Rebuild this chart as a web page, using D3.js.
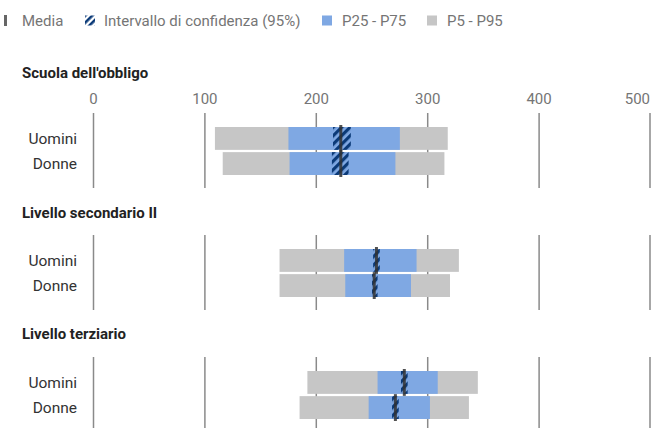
<!DOCTYPE html>
<html>
<head>
<meta charset="utf-8">
<script src="https://cdn.jsdelivr.net/npm/d3@7"></script>
<style>
  html, body { margin: 0; padding: 0; background: #fff; }
  svg { display: block; font-family: Roboto, "Noto Sans", sans-serif; }
</style>
</head>
<body>
<svg id="chart" width="651" height="428"></svg>
<script>
// ---- data ----
const panels = ["Scuola dell'obbligo", "Livello secondario II", "Livello terziario"];
const genders = ["Uomini", "Donne"];
const ticks = [0, 100, 200, 300, 400, 500];
const legendLabels = ["Media", "Intervallo di confidenza (95%)", "P25 - P75", "P5 - P95"];
// per panel: [Uomini, Donne]
const p5   = [[109, 116], [167, 167], [192, 185]];
const p95  = [[318, 315], [328, 320], [345, 337]];
const p25  = [[175, 176], [225, 226], [255, 247]];
const p75  = [[275, 271], [290, 285], [309, 302]];
const mean = [[222, 222], [254, 252], [279, 271]];
const ciLo = [[215, 214], [251, 250], [276, 268]];
const ciHi = [[231, 229], [257, 255], [282, 274]];

// ---- layout ----
const W = 651, H = 428;
const svg = d3.select("#chart");
const x = d3.scaleLinear().domain([0, 500]).range([93.5, 650.5]);
const gridTops = [113, 235, 357];
const titleBase = [78, 218, 339];
const colGray = "#c6c6c6", colBlue = "#7fa8e3", colHatch = "#0b3a78", colMean = "#333";

// hatch pattern
const defs = svg.append("defs");
const pat = defs.append("pattern").attr("id", "hatch").attr("patternUnits", "userSpaceOnUse")
  .attr("width", 6).attr("height", 6).attr("patternTransform", "rotate(45)");
pat.append("rect").attr("width", 3.2).attr("height", 6).attr("fill", colHatch);
const pat2 = defs.append("pattern").attr("id", "hatchL").attr("patternUnits", "userSpaceOnUse")
  .attr("width", 5).attr("height", 5).attr("patternTransform", "rotate(45)");
pat2.append("rect").attr("width", 2.6).attr("height", 5).attr("fill", colHatch);

// ---- legend ----
const lg = svg.append("g");
const lgY = 20.5;
lg.append("rect").attr("x", 4).attr("y", lgY - 5.5).attr("width", 3).attr("height", 11).attr("fill", "#666");
lg.append("rect").attr("x", 85).attr("y", lgY - 5).attr("width", 10).attr("height", 10).attr("fill", "url(#hatchL)");
lg.append("rect").attr("x", 322).attr("y", lgY - 5).attr("width", 10).attr("height", 10).attr("fill", colBlue);
lg.append("rect").attr("x", 427).attr("y", lgY - 5).attr("width", 10).attr("height", 10).attr("fill", colGray);
const lgX = [22, 104, 342, 447];
lg.selectAll("text.lg").data(legendLabels).join("text")
  .attr("x", (d, i) => lgX[i]).attr("y", lgY + 5.5)
  .attr("font-size", 15).attr("fill", "#757575").text(d => d);

// ---- panels ----
panels.forEach((title, pi) => {
  const g = svg.append("g");
  const top = gridTops[pi];
  g.append("text").attr("x", 22).attr("y", titleBase[pi])
    .attr("font-size", 15).attr("font-weight", "bold").attr("fill", "#222").text(title);

  // axis labels on the first panel
  if (pi === 0) {
    g.selectAll("text.tick").data(ticks).join("text")
      .attr("x", d => x(d) + 14 > W ? W - 1 : x(d))
      .attr("text-anchor", d => x(d) + 14 > W ? "end" : "middle")
      .attr("y", 103.5).attr("font-size", 15).attr("fill", "#757575")
      .text(d => d);
  }
  // grid lines
  g.selectAll("line.grid").data(ticks).join("line")
    .attr("x1", d => Math.min(x(d), W - 1)).attr("x2", d => Math.min(x(d), W - 1))
    .attr("y1", top).attr("y2", top + 75)
    .attr("stroke", "#8a8a8a").attr("stroke-width", 1.5);

  const y = d3.scaleBand().domain(genders).range([top + 14, top + 62]).paddingInner(0.09);

  genders.forEach((gname, gi) => {
    const y0 = y(gname), bh = y.bandwidth();
    g.append("rect").attr("x", x(p5[pi][gi])).attr("y", y0)
      .attr("width", x(p95[pi][gi]) - x(p5[pi][gi])).attr("height", bh).attr("fill", colGray);
    g.append("rect").attr("x", x(p25[pi][gi])).attr("y", y0)
      .attr("width", x(p75[pi][gi]) - x(p25[pi][gi])).attr("height", bh).attr("fill", colBlue);
    g.append("rect").attr("x", x(ciLo[pi][gi])).attr("y", y0)
      .attr("width", x(ciHi[pi][gi]) - x(ciLo[pi][gi])).attr("height", bh).attr("fill", "url(#hatch)");
    g.append("line").attr("x1", x(mean[pi][gi])).attr("x2", x(mean[pi][gi]))
      .attr("y1", y0 - 2).attr("y2", y0 + bh + 2)
      .attr("stroke", colMean).attr("stroke-opacity", 0.85).attr("stroke-width", 3);
    g.append("text").attr("x", 77).attr("y", y0 + bh / 2 + 5.5)
      .attr("text-anchor", "end").attr("font-size", 15.5).attr("fill", "#333").text(gname);
  });
});
</script>
</body>
</html>
